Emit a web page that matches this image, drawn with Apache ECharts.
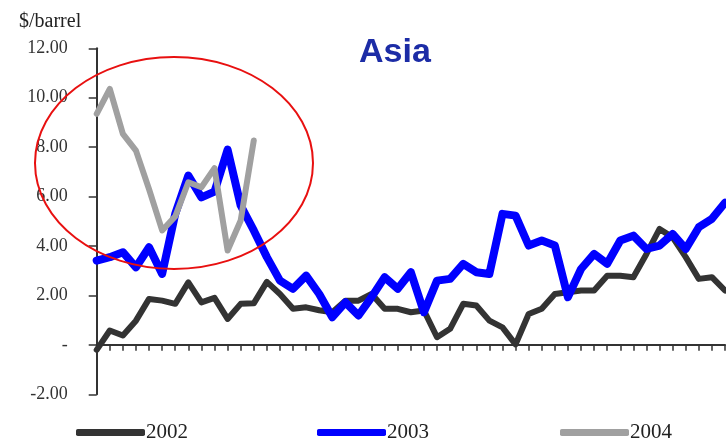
<!DOCTYPE html>
<html>
<head>
<meta charset="utf-8">
<script src="https://cdn.jsdelivr.net/npm/echarts/dist/echarts.min.js"></script>
<style>
  html, body { margin: 0; padding: 0; background: #ffffff; }
  #chart { width: 726px; height: 438px; }
</style>
</head>
<body>
<div id="chart"></div>
<script>
// Weekly Asia margin, $/barrel, one line per year
const weeks = Array.from({ length: 49 }, (_, i) => 'W' + (i + 1));

const y2002 = [
  -0.20, 0.58, 0.38, 0.98, 1.86, 1.79, 1.66, 2.53, 1.72, 1.90,
  1.05, 1.66, 1.68, 2.55, 2.06, 1.46, 1.52, 1.40, 1.32, 1.79,
  1.79, 2.06, 1.46, 1.46, 1.32, 1.39, 0.31, 0.65, 1.66, 1.59,
  0.98, 0.71, 0.02, 1.25, 1.46, 2.06, 2.13, 2.20, 2.20, 2.80,
  2.80, 2.74, 3.68, 4.69, 4.35, 3.55, 2.67, 2.74, 2.20
];

const y2003 = [
  3.41, 3.55, 3.75, 3.14, 3.95, 2.87, 5.30, 6.85, 5.97, 6.20,
  7.90, 5.64, 4.63, 3.55, 2.60, 2.27, 2.80, 2.06, 1.12, 1.72,
  1.19, 1.93, 2.74, 2.27, 2.94, 1.32, 2.60, 2.67, 3.28, 2.94,
  2.87, 5.30, 5.23, 4.02, 4.22, 4.02, 1.93, 3.07, 3.68, 3.28,
  4.22, 4.42, 3.88, 4.02, 4.49, 3.88, 4.76, 5.10, 5.75
];

const y2004 = [
  9.35, 10.36, 8.54, 7.86, 6.30, 4.63, 5.20, 6.58, 6.38, 7.15,
  3.82, 5.03, 8.27
];

const seriesNames = ['2002', '2003', '2004'];
const seriesColors = ['#333333', '#0000ff', '#a0a0a0'];
const seriesWidths = [6, 8, 6];
const seriesData = [y2002, y2003, y2004];

const serif = '"Liberation Serif", "DejaVu Serif", serif';

const chart = echarts.init(document.getElementById('chart'), null, { renderer: 'canvas' });

const legendLefts = [71, 312, 555];

chart.setOption({
  animation: false,
  backgroundColor: '#ffffff',
  title: [
    {
      text: 'Asia',
      left: 354,
      top: 31,
      textStyle: {
        fontFamily: '"Liberation Sans", Arial, sans-serif',
        fontWeight: 'bold',
        fontSize: 34,
        color: '#1c2ca6'
      }
    },
    {
      text: '$/barrel',
      left: 14,
      top: 7,
      textStyle: {
        fontFamily: serif,
        fontWeight: 'normal',
        fontSize: 20,
        color: '#222222'
      }
    }
  ],
  legend: seriesNames.map((name, k) => ({
    data: [name],
    left: legendLefts[k],
    top: 417,
    icon: 'roundRect',
    itemWidth: 69,
    itemHeight: 7,
    textStyle: {
      fontFamily: serif,
      fontSize: 21,
      color: '#222222',
      padding: [0, 0, 0, -4]
    }
  })),
  grid: {
    left: 96.7,
    right: 1,
    top: 48.3,
    bottom: 43.7,
    containLabel: false
  },
  xAxis: {
    type: 'category',
    data: weeks,
    boundaryGap: false,
    axisLine: { onZero: true, lineStyle: { color: '#333333', width: 2 } },
    axisTick: { show: true, interval: 0, inside: false, length: 6, lineStyle: { color: '#333333', width: 1.5 } },
    axisLabel: { show: false },
    splitLine: { show: false }
  },
  yAxis: {
    type: 'value',
    min: -2,
    max: 12,
    interval: 2,
    axisLine: { show: true, lineStyle: { color: '#333333', width: 2 } },
    axisTick: { show: true, length: 8, lineStyle: { color: '#333333', width: 1.5 } },
    splitLine: { show: false },
    axisLabel: {
      margin: 29,
      fontFamily: serif,
      fontSize: 18,
      color: '#333333',
      formatter: v => (v === 0 ? '-' : v.toFixed(2))
    }
  },
  series: seriesNames.map((name, k) => ({
    name: name,
    type: 'line',
    data: seriesData[k],
    symbol: 'none',
    smooth: false,
    z: 2 + k,
    lineStyle: {
      color: seriesColors[k],
      width: seriesWidths[k],
      join: 'round',
      cap: 'round'
    },
    itemStyle: { color: seriesColors[k] }
  })),
  graphic: [
    {
      type: 'ellipse',
      z: 100,
      shape: { cx: 174, cy: 163, rx: 139, ry: 106 },
      style: { fill: 'none', stroke: '#e81010', lineWidth: 2 }
    }
  ]
});
</script>
</body>
</html>
